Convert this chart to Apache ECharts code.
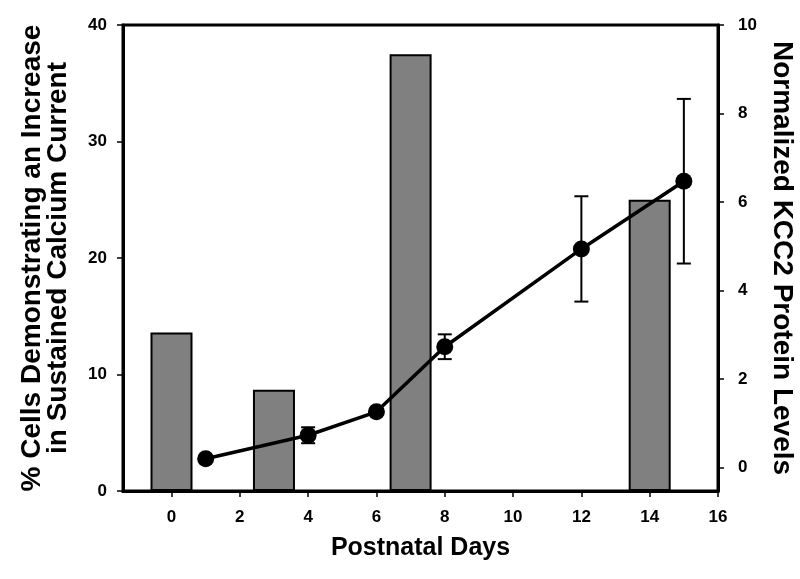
<!DOCTYPE html>
<html>
<head>
<meta charset="utf-8">
<script src="https://cdn.jsdelivr.net/npm/echarts@6/dist/echarts.min.js"></script>
<style>
html,body{margin:0;padding:0;background:#fff;}
#chart{width:800px;height:579px;}
</style>
</head>
<body>
<div id="chart"></div>
<script>
// Data
const barDays = [0, 3, 7, 14];
const barValues = [13.6, 8.7, 37.5, 25.0];
const lineDays = [1, 4, 6, 8, 12, 15];
const lineValues = [0.2, 0.73, 1.26, 2.73, 4.94, 6.47];
const lineErrors = [0, 0.18, 0, 0.28, 1.19, 1.86];
const xTicks = [0, 2, 4, 6, 8, 10, 12, 14, 16];
const leftTicks = [0, 10, 20, 30, 40];
const rightTicks = [0, 2, 4, 6, 8, 10];

const FONT = '"Liberation Sans", Arial, sans-serif';
const chart = echarts.init(document.getElementById('chart'), null, {renderer: 'canvas'});

const barData = barDays.map((d, i) => [d, barValues[i]]);
const lineData = lineDays.map((d, i) => [d, lineValues[i]]);
const errData = lineDays.map((d, i) => [d, lineValues[i] - lineErrors[i], lineValues[i] + lineErrors[i]]).filter((e, i) => lineErrors[i] > 0);

const tickLabel = {fontFamily: FONT, fontWeight: 'bold', fontSize: 17, color: '#000'};

chart.setOption({
  animation: false,
  backgroundColor: '#fff',
  grid: {left: 123, right: 82, top: 25, bottom: 88, show: true, borderColor: '#000', borderWidth: 3, backgroundColor: 'transparent', containLabel: false, outerBoundsMode: 'none'},
  xAxis: {
    type: 'value', min: -1.42, max: 16,
    name: 'Postnatal Days', nameLocation: 'middle', nameGap: 45,
    nameTextStyle: {fontFamily: FONT, fontWeight: 'bold', fontSize: 25, color: '#000'},
    axisLine: {show: true, onZero: false, lineStyle: {color: '#000', width: 3}},
    axisTick: {show: true, inside: false, length: 6, lineStyle: {color: '#000', width: 1.5}, customValues: xTicks},
    axisLabel: Object.assign({margin: 18, customValues: xTicks}, tickLabel),
    splitLine: {show: false}
  },
  yAxis: [{
    type: 'value', min: 0, max: 40, interval: 10, position: 'left',
    name: '% Cells Demonstrating an Increase\nin Sustained Calcium Current', nameLocation: 'middle', nameGap: 52,
    nameTextStyle: {fontFamily: FONT, fontWeight: 'bold', fontSize: 28, color: '#000', lineHeight: 26},
    axisLine: {show: true, onZero: false, lineStyle: {color: '#000', width: 3}},
    axisTick: {show: true, inside: false, length: 6, lineStyle: {color: '#000', width: 1.5}, customValues: leftTicks},
    axisLabel: Object.assign({margin: 16, customValues: leftTicks}, tickLabel),
    splitLine: {show: false}
  }, {
    type: 'value', min: -0.53, max: 10, position: 'right',
    name: 'Normalized KCC2 Protein Levels', nameLocation: 'middle', nameGap: 40, nameRotate: -90,
    nameTextStyle: {fontFamily: FONT, fontWeight: 'bold', fontSize: 28, color: '#000'},
    axisLine: {show: true, onZero: false, lineStyle: {color: '#000', width: 3}},
    axisTick: {show: true, inside: false, length: 6, lineStyle: {color: '#000', width: 1.5}, customValues: rightTicks},
    axisLabel: Object.assign({margin: 20, customValues: rightTicks}, tickLabel),
    splitLine: {show: false}
  }],
  series: [{
    type: 'bar', xAxisIndex: 0, yAxisIndex: 0, data: barData, barWidth: 42,
    itemStyle: {color: '#808080', borderColor: '#000', borderWidth: 2}, z: 2
  }, {
    type: 'custom', xAxisIndex: 0, yAxisIndex: 1, data: errData, z: 3,
    renderItem: function (params, api) {
      const x = api.value(0);
      const lo = api.coord([x, api.value(1)]);
      const hi = api.coord([x, api.value(2)]);
      const cap = 7;
      const st = {stroke: '#000', lineWidth: 2};
      return {type: 'group', children: [
        {type: 'line', shape: {x1: lo[0], y1: lo[1], x2: hi[0], y2: hi[1]}, style: st},
        {type: 'line', shape: {x1: lo[0] - cap, y1: lo[1], x2: lo[0] + cap, y2: lo[1]}, style: st},
        {type: 'line', shape: {x1: hi[0] - cap, y1: hi[1], x2: hi[0] + cap, y2: hi[1]}, style: st}
      ]};
    }
  }, {
    type: 'line', xAxisIndex: 0, yAxisIndex: 1, data: lineData, z: 4,
    symbol: 'circle', symbolSize: 17,
    lineStyle: {color: '#000', width: 3.5},
    itemStyle: {color: '#000'}
  }]
});
</script>
</body>
</html>
